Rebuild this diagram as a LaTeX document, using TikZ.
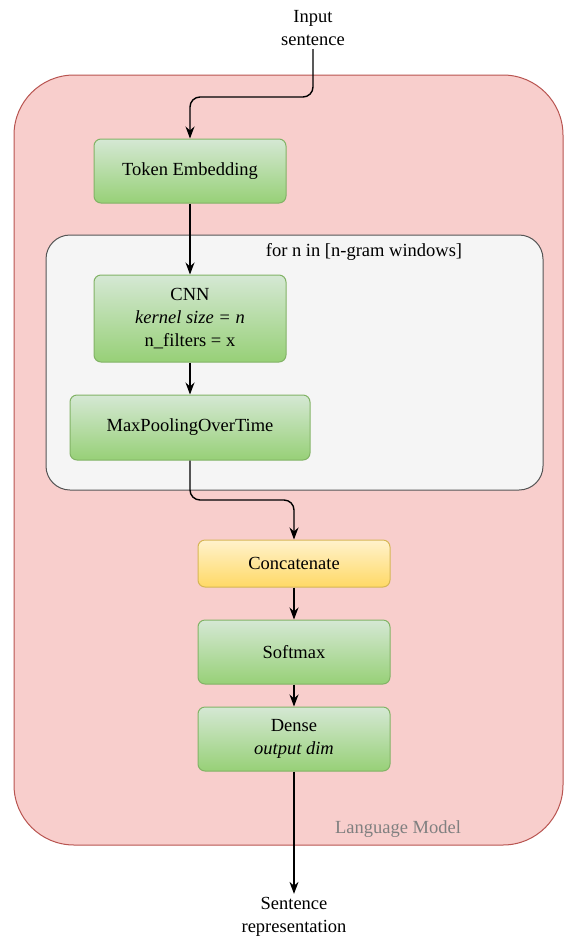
\documentclass[tikz,border=0pt]{standalone}
\usepackage{fontspec}
\setmainfont{Liberation Serif}
\usetikzlibrary{arrows.meta,shadings}
\definecolor{lmfill}{HTML}{F8CECC}
\definecolor{lmline}{HTML}{B85450}
\definecolor{loopfill}{HTML}{F5F5F5}
\definecolor{loopline}{HTML}{555555}
\definecolor{gtop}{HTML}{D5E8D4}
\definecolor{gbot}{HTML}{97D077}
\definecolor{gline}{HTML}{82B366}
\definecolor{ytop}{HTML}{FFF2CC}
\definecolor{ybot}{HTML}{FFD966}
\definecolor{yline}{HTML}{D6B656}
\tikzset{
  layer/.style={draw=gline, line width=1pt, rounded corners=7pt,
    top color=gtop, bottom color=gbot, align=center, inner sep=0pt,
    font=\fontsize{18.5}{23}\selectfont},
  joinbox/.style={layer, draw=yline, top color=ytop, bottom color=ybot},
  flow/.style={draw=black, line width=1.4pt, rounded corners=10pt,
    -{Stealth[length=12pt,width=9pt]}},
  plain/.style={font=\fontsize{18.5}{23}\selectfont, align=center}
}
\begin{document}
\begin{tikzpicture}[x=1pt,y=-1pt]
\useasboundingbox (0,0) rectangle (564,938);
% language model container
\draw[fill=lmfill, draw=lmline, line width=1pt, rounded corners=60pt]
  (14,75) rectangle (563,845);
\node[plain, text=black!50, anchor=center] (lmlabel) at (398,829) {Language Model};
% n-gram loop container
\draw[fill=loopfill, draw=loopline, line width=1pt, rounded corners=24pt]
  (46,235) rectangle (543,490);
\node[plain, anchor=center] (looplabel) at (364,252) {for n in [n-gram windows]};
% layers
\node[plain] (input) at (313,28) {Input\\sentence};
\node[layer, minimum width=192pt, minimum height=64pt] (tok) at (190,171) {Token Embedding};
\node[layer, minimum width=192pt, minimum height=87pt] (cnn) at (190,318.5)
  {CNN\\\textit{kernel size = n}\\n\_filters = x};
\node[layer, minimum width=240pt, minimum height=65pt] (pool) at (190,427.5) {MaxPoolingOverTime};
\node[joinbox, minimum width=192pt, minimum height=47pt] (cat) at (294,563.5) {Concatenate};
\node[layer, minimum width=192pt, minimum height=64pt] (soft) at (294,652) {Softmax};
\node[layer, minimum width=192pt, minimum height=64pt] (dense) at (294,739)
  {Dense\\\textit{output dim}};
\node[plain] (out) at (294,917) {Sentence\\representation};
% connectors
\draw[flow] (input.south) |- (190,97) -- (tok.north);
\draw[flow] (tok.south) -- (cnn.north);
\draw[flow] (cnn.south) -- (pool.north);
\draw[flow] (pool.south) |- (294,500) -- (cat.north);
\draw[flow] (cat.south) -- (soft.north);
\draw[flow] (soft.south) -- (dense.north);
\draw[flow] (dense.south) -- (out.north);
\end{tikzpicture}
\end{document}
